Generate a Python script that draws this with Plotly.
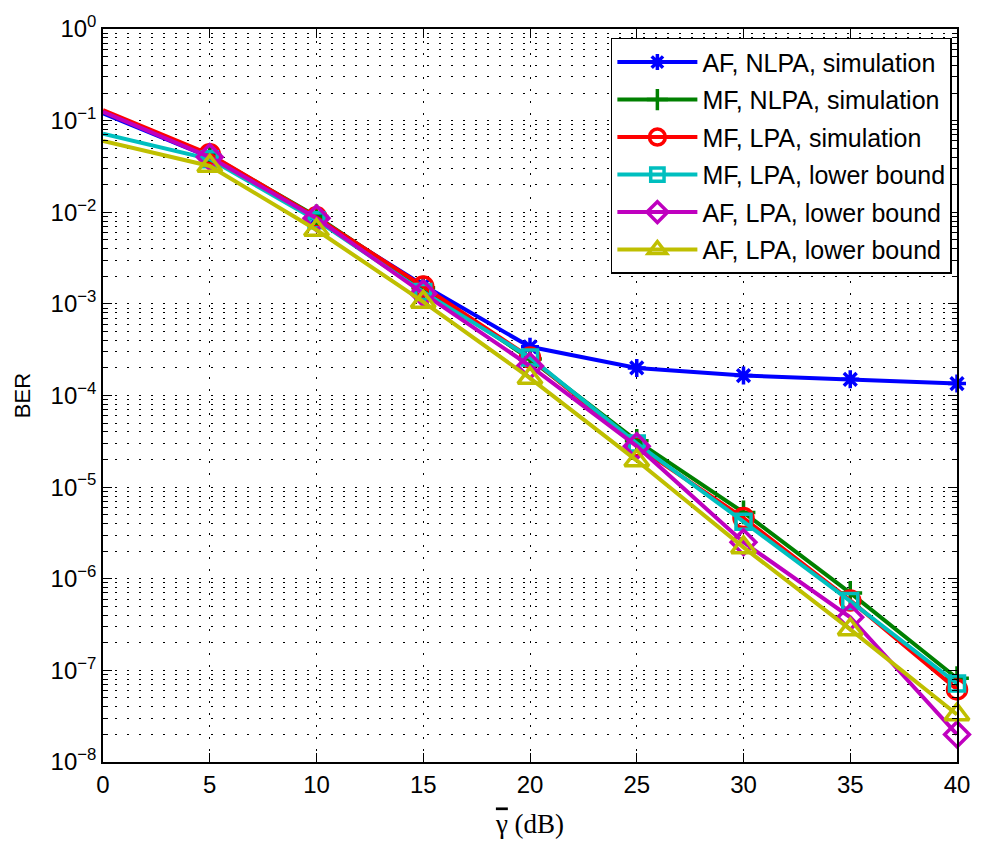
import plotly.graph_objects as go

snr_db = [0, 5, 10, 15, 20, 25, 30, 35, 40]

af_nlpa_sim = [0.12, 0.040, 0.0085, 1.6e-3, 3.4e-4, 2.0e-4, 1.65e-4, 1.5e-4, 1.35e-4]
mf_nlpa_sim = [0.125, 0.042, 0.0090, 1.5e-3, 2.5e-4, 3.2e-5, 5.3e-6, 7.0e-7, 8.2e-8]
mf_lpa_sim = [0.13, 0.043, 0.0088, 1.55e-3, 2.6e-4, 2.8e-5, 4.6e-6, 5.8e-7, 6.2e-8]
mf_lpa_lb = [0.072, 0.038, 0.0082, 1.35e-3, 2.6e-4, 3.0e-5, 4.2e-6, 5.7e-7, 7.2e-8]
af_lpa_lb = [0.125, 0.040, 0.0086, 1.3e-3, 2.1e-4, 2.8e-5, 2.5e-6, 3.8e-7, 2.0e-8]
af_lpa_lb2 = [0.060, 0.032, 0.0064, 1.05e-3, 1.55e-4, 1.95e-5, 2.2e-6, 2.8e-7, 3.3e-8]

names = ["AF, NLPA, simulation", "MF, NLPA, simulation", "MF, LPA, simulation",
         "MF, LPA, lower bound", "AF, LPA, lower bound", "AF, LPA, lower bound"]
series = [af_nlpa_sim, mf_nlpa_sim, mf_lpa_sim, mf_lpa_lb, af_lpa_lb, af_lpa_lb2]
colors = ["#0000ff", "#008000", "#ff0000", "#00bfbf", "#bf00bf", "#bfbf00"]
symbols = ["asterisk-open", "cross-thin-open", "circle-open", "square-open", "diamond-open", "triangle-up-open"]
sizes = [15, 17, 19, 15, 19, 21]

ytick_vals = [10.0 ** (-k) for k in range(0, 9)]
ytick_text = ["10<sup>0</sup>"] + ["10<sup>\u2212%d</sup>" % k for k in range(1, 9)]
yminor_vals = [m * 10.0 ** (-k) for k in range(1, 9) for m in range(2, 10)]

fig = go.Figure()
for i, (name, y, c, s, sz) in enumerate(zip(names, series, colors, symbols, sizes)):
    # no marker at the first point (as in the reference)
    msize = [0] + [sz] * (len(snr_db) - 1)
    fig.add_trace(go.Scatter(
        x=snr_db, y=y, name=name, mode="lines+markers", legendgroup="g%d" % i,
        line=dict(color=c, width=4), cliponaxis=False,
        marker=dict(symbol=s, size=msize, color=c, opacity=1,
                    line=dict(color=c, width=3.5)),
    ))

axis_common = dict(
    showline=True, linecolor="black", linewidth=1.5, mirror="ticks",
    ticks="inside", tickcolor="black", ticklen=9,
    showgrid=True, gridcolor="black", griddash="2px,10px", gridwidth=1,
    zeroline=False,
    tickfont=dict(family="Liberation Sans, Arial", size=24, color="black"),
)

fig.update_xaxes(range=[0, 40], tickvals=snr_db, ticktext=[str(v) for v in snr_db],
                 title=dict(text='<span style="text-decoration:overline">\u03b3</span> (dB)',
                            font=dict(family="Liberation Serif, Times New Roman", size=27, color="black"),
                            standoff=18),
                 **axis_common)
fig.update_yaxes(type="log", range=[-8, 0], tickvals=ytick_vals, ticktext=ytick_text,
                 title=dict(text="BER", font=dict(family="Liberation Sans, Arial", size=22, color="black"), standoff=14),
                 minor=dict(tickvals=yminor_vals, ticks="inside", ticklen=5, tickcolor="black", showgrid=True,
                            gridcolor="black", griddash="2px,10px", gridwidth=1),
                 **axis_common)

fig.update_layout(
    width=982, height=846,
    margin=dict(l=103, r=22, t=24, b=81),
    paper_bgcolor="white", plot_bgcolor="white",
    showlegend=True,
    legend=dict(x=0.994, y=0.988, xanchor="right", yanchor="top",
                bgcolor="white", bordercolor="black", borderwidth=1.5,
                font=dict(family="Liberation Sans, Arial", size=25, color="black"),
                itemwidth=80, tracegroupgap=2),
)

fig.write_html("out.html")
